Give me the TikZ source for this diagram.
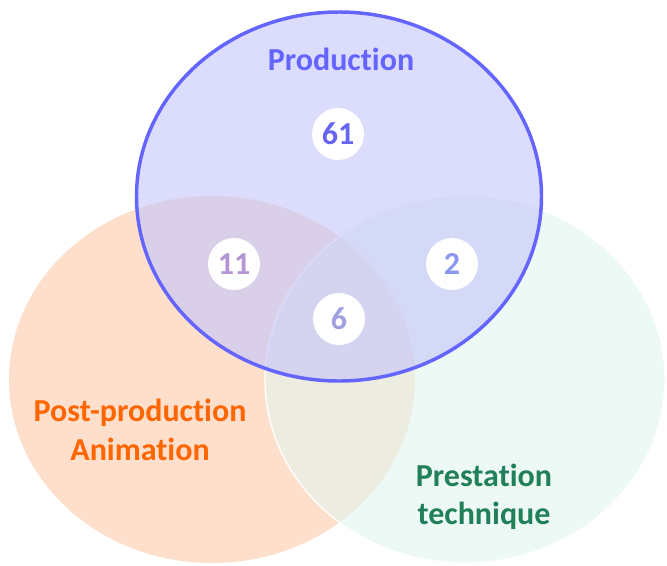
\documentclass[tikz,border=0pt]{standalone}
\usepackage{fontspec}
\setmainfont{Carlito}[RawFeature=-liga]
\definecolor{orfill}{RGB}{253,223,203}
\definecolor{grfill}{RGB}{226,245,237}
\definecolor{blfill}{RGB}{198,198,250}
\definecolor{blline}{RGB}{100,100,255}
\definecolor{ortext}{RGB}{255,102,0}
\definecolor{grtext}{RGB}{33,127,90}
\definecolor{numa}{RGB}{102,102,240}
\definecolor{numb}{RGB}{180,150,210}
\definecolor{numc}{RGB}{140,150,238}
\definecolor{numd}{RGB}{160,160,225}
\begin{document}
\begin{tikzpicture}[x=0.75pt,y=-0.75pt,
  lab/.style={font=\fontsize{24}{28}\selectfont\bfseries, align=center, inner sep=0pt},
  num/.style={circle, fill=white, minimum size=39pt, inner sep=0pt, font=\fontsize{24}{26}\selectfont\bfseries}]
\useasboundingbox (0,0) rectangle (667,565);
\fill[orfill] (212,379.5) ellipse [x radius=203, y radius=183.5];
\path[fill=grfill, fill opacity=0.62, draw=white, line width=1pt] (465,379.5) ellipse [x radius=200, y radius=183.5];
\path[fill=blfill, fill opacity=0.62, draw=blline, line width=2.6pt] (339,196.5) ellipse [x radius=202.5, y radius=184.5];
\node[lab, text=blline, anchor=base] (prod) at (341,70.5) {Production};
\node[lab, text=ortext, anchor=base] (post) at (140,421.5) {Post-production};
\node[lab, text=ortext, anchor=base] (anim) at (140,460) {Animation};
\node[lab, text=grtext, anchor=base] (prest) at (484,486) {Prestation};
\node[lab, text=grtext, anchor=base] (tech) at (484,524) {technique};
\node[num, text=numa] (n61) at (338,134) {61};
\node[num, text=numb] (n11) at (234,264) {11};
\node[num, text=numc] (n2) at (452,264) {2};
\node[num, text=numd] (n6) at (339,319) {6};
\end{tikzpicture}
\end{document}
